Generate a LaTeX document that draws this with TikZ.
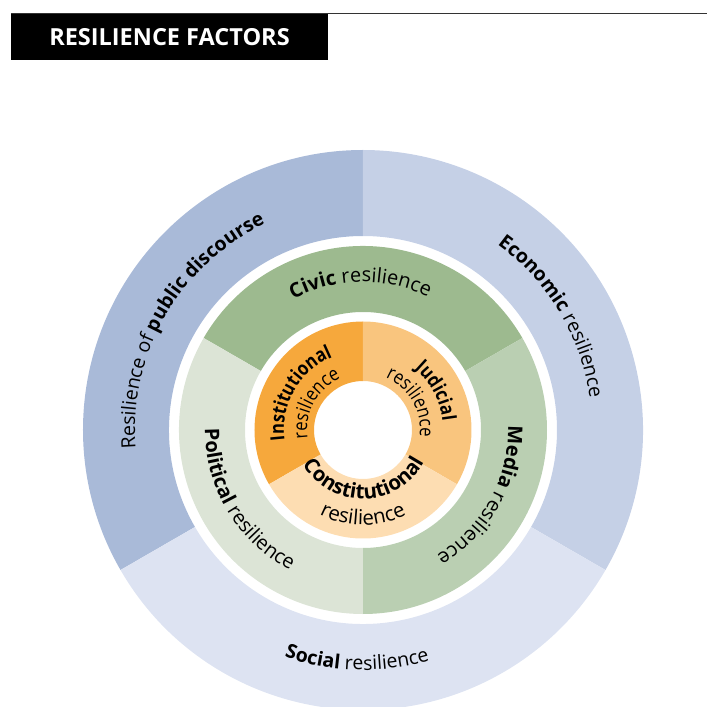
\documentclass[tikz,border=0pt]{standalone}
\usepackage{fontspec}
\setmainfont{Open Sans}
% slightly condensed cut for the labels of the inner ring
\newfontfamily\innerfont[FakeStretch=0.85]{Open Sans}
\usetikzlibrary{decorations.text}

% ring colours
\definecolor{discourse}{RGB}{169,186,216}
\definecolor{economic}{RGB}{197,208,230}
\definecolor{social}{RGB}{221,227,242}
\definecolor{civic}{RGB}{157,186,143}
\definecolor{media}{RGB}{186,207,178}
\definecolor{political}{RGB}{220,228,214}
\definecolor{institutional}{RGB}{246,168,60}
\definecolor{judicial}{RGB}{249,197,126}
\definecolor{constitutional}{RGB}{253,221,178}

% font sizes of the three rings
\newcommand\szOuter{\fontsize{19.5}{23}\selectfont}
\newcommand\szMid{\fontsize{20}{24}\selectfont}
\newcommand\szIn{\innerfont\fontsize{19.5}{23}\selectfont}
\newcommand\szInWide{\fontsize{20.5}{24}\selectfont}

% annular sector: colour, start angle, end angle, inner radius, outer radius
\newcommand\annulus[5]{%
  \fill[#1] (#2:#5) arc[start angle=#2,end angle=#3,radius=#5]
    -- (#3:#4) arc[start angle=#3,end angle=#2,radius=#4] -- cycle;}

% text centred along an arc: radius, start angle, end angle, text
\newcommand\ringtext[4]{%
  \path[decorate,decoration={text along path,text align=center,text={#4}}]
    (#2:#1) arc[start angle=#2,end angle=#3,radius=#1];}

\begin{document}
\begin{tikzpicture}[x=1pt,y=1pt]
\useasboundingbox (-363,-277) rectangle (344,430);
\clip (-363,-277) rectangle (344,430);

% header
\draw[line width=1.2pt,black!80] (-352,416.5) -- (344,416.5);
\node[fill=black,text=white,minimum width=317,minimum height=46,inner sep=0pt,
      font=\fontsize{23.5}{28}\selectfont\bfseries] (title) at (-193.5,393) {RESILIENCE FACTORS};

% outer ring
\annulus{discourse}{90}{210}{194}{280}
\annulus{economic}{-30}{90}{194}{280}
\annulus{social}{210}{330}{194}{280}

% middle ring
\annulus{civic}{30}{150}{118}{184}
\annulus{media}{-90}{30}{118}{184}
\annulus{political}{150}{270}{118}{184}

% inner ring
\annulus{institutional}{90}{210}{49}{108.5}
\annulus{judicial}{-30}{90}{49}{108.5}
\annulus{constitutional}{210}{330}{49}{108.5}

% outer labels
\ringtext{228}{220}{80}{|\szOuter|Resilience of |\szOuter\bfseries|public discourse}
\ringtext{229}{101}{-39}{|\szOuter\bfseries|Economic|\szOuter\mdseries| resilience}
\ringtext{240}{198.5}{338.5}{|\szOuter\bfseries|Social|\szOuter\mdseries| resilience}

% middle labels
\ringtext{148}{161}{21}{|\szMid\bfseries|Civic|\szMid\mdseries| resilience}
\ringtext{158}{141}{281}{|\szMid\bfseries|Political|\szMid\mdseries| resilience}
\ringtext{145}{41}{-99}{|\szMid\bfseries|Media|\szMid\mdseries| resilience}

% inner labels
\ringtext{79}{225}{75}{|\szIn\bfseries|Institutional}
\ringtext{56}{226}{76}{|\szIn|resilience}
\ringtext{80}{103}{-47}{|\szIn\bfseries|Judicial}
\ringtext{57}{105}{-45}{|\szIn|resilience}
\ringtext{69}{196}{346}{|\szInWide\bfseries|Constitutional}
\ringtext{95}{200}{340}{|\szInWide|resilience}
\end{tikzpicture}
\end{document}
